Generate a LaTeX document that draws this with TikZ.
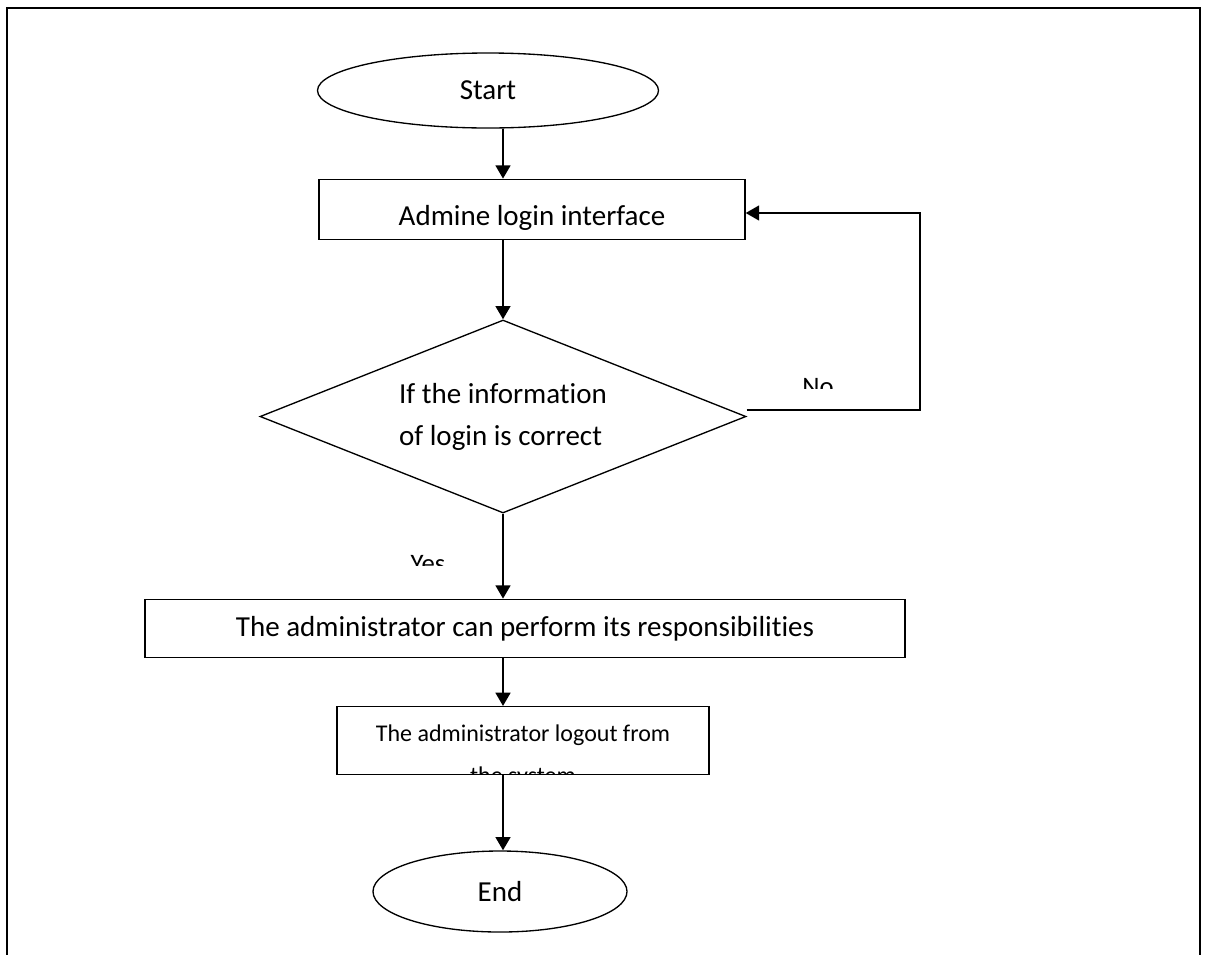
\documentclass[tikz,border=0pt]{standalone}
\usepackage{fontspec}
\setmainfont{Carlito}[Ligatures=CommonOff]
\usetikzlibrary{arrows.meta,positioning,shapes.geometric}

\begin{document}
\begin{tikzpicture}[
    x=0.75pt,y=-0.75pt,
    box/.style={draw,line width=1pt,inner sep=0pt,align=center,
      font=\fontsize{21.75}{31.5}\selectfont},
    term/.style={draw,ellipse,line width=1pt,inner sep=0pt,
      font=\fontsize{21.75}{31.5}\selectfont},
    cond/.style={draw,diamond,aspect=2.5,line width=1pt,inner sep=0pt,align=left,
      font=\fontsize{21.75}{31.5}\selectfont},
    small/.style={inner sep=0pt,align=center,font=\fontsize{18}{31.5}\selectfont},
    lbl/.style={inner sep=0pt,font=\fontsize{20}{24}\selectfont},
    arr/.style={-{Triangle[length=10pt,width=11pt]},line width=2pt},
    back/.style={-{Triangle[length=10pt,width=11pt]},line width=1.5pt}
  ]
    \useasboundingbox (0,0) rectangle (1205,954);
    \draw[line width=1.1pt] (7,960) -- (7,8) -- (1200,8) -- (1200,960);
    \node[term,minimum width=255.75pt,minimum height=56.25pt] (start) at (488,90.5) {Start};
    \node[box,below=37.5pt of start,xshift=33pt,minimum width=319.5pt,minimum height=45pt,
      text height=34.5pt,text depth=10.5pt] (admin) {Admine login interface};
    \node[cond,below=59.5pt of admin,xshift=-21.75pt,minimum width=364.5pt,minimum height=144.75pt]
      (check) {If the information\\of login is correct};
    \node[box,below=63.75pt of check,xshift=16.5pt,minimum width=570pt,minimum height=43.5pt]
      (resp) {The administrator can perform its responsibilities};
    \node[box,below=36pt of resp,xshift=-1.5pt,minimum width=279pt,minimum height=51pt] (logout) {};
    \begin{scope}
      \clip ([yshift=1.5pt]logout.south west) rectangle (logout.north east);
      \node[small,anchor=north,yshift=-14.25pt] (logouttext) at (logout.north)
        {The administrator logout from\\the system};
    \end{scope}
    \node[term,below=56.25pt of logout,xshift=-17.25pt,minimum width=190.5pt,minimum height=60.75pt]
      (end) {End};
    \coordinate (spine) at (503,0);
    \coordinate (ret) at (920,213);
    \draw[arr] (start.south -| spine) -- (admin.north -| spine);
    \draw[arr] (admin.south -| spine) -- (check.north);
    \draw[arr] (check.south) -- (resp.north -| check.south);
    \draw[arr] (resp.south -| spine) -- (logout.north -| spine);
    \draw[arr] (logout.south -| spine) -- (end.north -| spine);
    \draw[back] ([yshift=5.25pt]check.east) -| (ret) -- (ret -| admin.east);
    \begin{scope}
      \clip (760,340) rectangle (880,388);
      \node[lbl,anchor=base] (no) at (818,395) {No};
    \end{scope}
    \begin{scope}
      \clip (380,520) rectangle (480,565);
      \node[lbl,anchor=base] (yes) at (428,572.5) {Yes};
    \end{scope}
  \end{tikzpicture}
\end{document}
